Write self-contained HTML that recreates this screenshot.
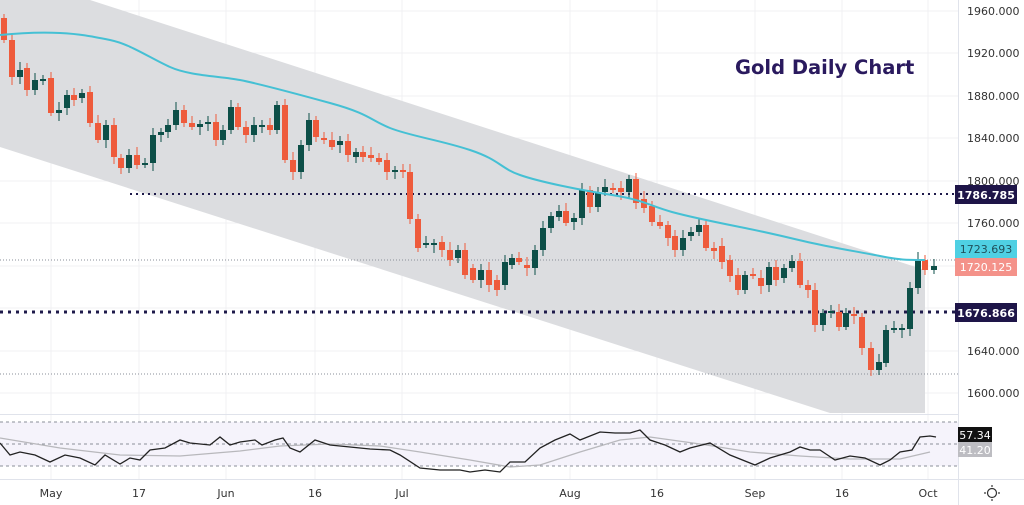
<!DOCTYPE html>
<html><head><meta charset="utf-8"><style>
html,body{margin:0;padding:0;background:#fff;}
svg{display:block;font-family:"DejaVu Sans","Liberation Sans",sans-serif;}
</style></head><body>
<svg id="s" width="1024" height="505" viewBox="0 0 1024 505" xmlns="http://www.w3.org/2000/svg">
<rect width="1024" height="505" fill="#fff"/>
<g id="grid" stroke="#f0f0f3" stroke-width="1"></g>
<polygon points="0,0 90,0 925,270 925,413 830,413 0,147" fill="#dcdde0"/>
<line x1="0" y1="260" x2="958" y2="260" stroke="#8a8f99" stroke-width="1" stroke-dasharray="1,2"/>
<line x1="0" y1="374" x2="958" y2="374" stroke="#8a8f99" stroke-width="1" stroke-dasharray="1,2"/>
<line x1="130" y1="194" x2="958" y2="194" stroke="#1e1a4a" stroke-width="2" stroke-dasharray="2,4"/>
<line x1="0" y1="312" x2="958" y2="312" stroke="#1e1a4a" stroke-width="3" stroke-dasharray="3,5"/>
<g id="candles"></g>
<path fill="none" stroke="#45c0d4" stroke-width="2" d="M0,35 C20,33 40,32 60,33 S90,36 110,40 S150,58 170,67 S220,76 240,80 S290,92 330,103 S370,120 390,128 S440,140 470,150 S500,168 520,175 S580,190 612,195 S650,206 672,212 S720,223 745,228 S790,238 812,243 S860,252 880,256 S905,260 925,260"/>
<text x="735" y="74" font-size="19.5" font-weight="bold" fill="#2a1a5e">Gold Daily Chart</text>
<line x1="0" y1="414.5" x2="958" y2="414.5" stroke="#e0e3eb"/>
<line x1="0" y1="479.5" x2="1024" y2="479.5" stroke="#e0e3eb"/>
<line x1="958.5" y1="0" x2="958.5" y2="505" stroke="#e0e3eb"/>
<rect x="0" y="422" width="958" height="44" fill="#f5f3fb"/>
<g stroke="#8a8f99" stroke-width="1" stroke-dasharray="3,3">
<line x1="0" y1="422" x2="958" y2="422"/><line x1="0" y1="444" x2="958" y2="444"/><line x1="0" y1="466" x2="958" y2="466"/></g>
<polyline fill="none" stroke="#b8b8bc" stroke-width="1.3" points="0,438 60,448 120,455 180,456 240,451 280,446 330,444 380,446 420,452 470,460 510,467 540,465 580,452 620,440 650,437 700,444 750,452 800,456 850,459 900,459 930,452"/>
<polyline fill="none" stroke="#222" stroke-width="1.3" points="0,443 10,455 20,452 35,455 50,462 65,455 80,458 95,465 105,455 120,464 130,458 140,460 150,450 165,448 180,440 190,443 210,445 220,437 230,445 240,442 255,440 262,445 275,440 283,438 290,448 300,452 315,440 330,445 350,447 370,449 390,450 400,455 420,468 440,470 460,470 470,472 485,470 500,472 510,462 525,462 540,448 555,440 570,434 580,440 600,432 615,433 630,433 640,430 650,440 665,445 680,452 690,448 710,443 730,455 755,465 770,458 790,452 800,447 810,450 820,450 835,460 850,456 865,458 880,465 890,460 900,452 912,450 920,437 930,436 936,437"/>
<g id="axis" font-size="11" fill="#333"></g>
<rect x="955" y="185" width="62" height="19" fill="#1e1548"/><text x="986" y="199" font-size="11" font-weight="bold" fill="#fff" text-anchor="middle">1786.785</text>
<rect x="955" y="240" width="62" height="18" fill="#4fd0e3"/><text x="986" y="253" font-size="11" fill="#20505a" text-anchor="middle">1723.693</text>
<rect x="955" y="258" width="62" height="18" fill="#f4928a"/><text x="986" y="271" font-size="11" fill="#fff" text-anchor="middle">1720.125</text>
<rect x="955" y="303" width="62" height="19" fill="#1e1548"/><text x="986" y="317" font-size="11" font-weight="bold" fill="#fff" text-anchor="middle">1676.866</text>
<rect x="958" y="427" width="34" height="15" fill="#111"/><text x="975" y="439" font-size="11" fill="#fff" text-anchor="middle">57.34</text>
<rect x="958" y="442" width="34" height="15" fill="#bdbdc2"/><text x="975" y="454" font-size="11" fill="#fff" text-anchor="middle">41.20</text>
<g font-size="11" fill="#333" text-anchor="middle">
<text x="51" y="497">May</text><text x="139" y="497">17</text><text x="226" y="497">Jun</text><text x="315" y="497">16</text><text x="402" y="497">Jul</text><text x="570" y="497">Aug</text><text x="657" y="497">16</text><text x="755" y="497">Sep</text><text x="842" y="497">16</text><text x="928" y="497">Oct</text></g>
<circle cx="992" cy="493" r="4.5" fill="none" stroke="#333" stroke-width="1.2"/>
<g stroke="#333" stroke-width="1.2"><line x1="992" y1="485" x2="992" y2="487"/><line x1="992" y1="499" x2="992" y2="501"/><line x1="984" y1="493" x2="986" y2="493"/><line x1="998" y1="493" x2="1000" y2="493"/></g>
</svg>
<script>
var NS="http://www.w3.org/2000/svg";
function el(p,t,a){var e=document.createElementNS(NS,t);for(var k in a)e.setAttribute(k,a[k]);p.appendChild(e);return e;}
var g=document.getElementById('grid');
[11,53,96,138,181,223,266,308,351,393].forEach(function(y){el(g,'line',{x1:0,x2:958,y1:y,y2:y});});
[51,139,226,315,402,570,657,755,842,928].forEach(function(x){el(g,'line',{x1:x,x2:x,y1:0,y2:479});});
var ax=document.getElementById('axis');
[[11,'1960.000'],[53,'1920.000'],[96,'1880.000'],[138,'1840.000'],[181,'1800.000'],[223,'1760.000'],[351,'1640.000'],[393,'1600.000']].forEach(function(a){var t=el(ax,'text',{x:967,y:a[0]+4});t.textContent=a[1];});
var R='#ee5b3c',G='#0d4f48';
var c=[[4,18,40,'r'],[12,40,77,'r'],[20,70,77,'g'],[27,68,90,'r'],[35,80,90,'g'],[43,79,81,'g'],[51,78,113,'r'],[59,110,113,'g'],[67,95,108,'g'],[74,95,100,'r'],[82,93,98,'g'],[90,92,123,'r'],[98,123,140,'r'],[106,125,140,'g'],[114,125,157,'r'],[121,158,168,'r'],[129,155,168,'g'],[137,155,165,'r'],[145,163,165,'g'],[153,135,163,'g'],[161,132,135,'g'],[168,125,132,'g'],[176,110,125,'g'],[184,110,123,'r'],[192,123,127,'r'],[200,124,127,'g'],[208,122,124,'g'],[216,122,140,'r'],[223,130,140,'g'],[231,107,130,'g'],[238,107,127,'r'],[246,127,135,'r'],[254,125,135,'g'],[262,125,127,'g'],[270,125,130,'r'],[277,105,130,'g'],[285,105,160,'r'],[293,160,172,'r'],[301,145,172,'g'],[309,120,145,'g'],[316,120,137,'r'],[324,138,140,'r'],[332,140,147,'r'],[340,141,145,'g'],[348,141,155,'r'],[356,152,157,'g'],[363,152,157,'r'],[371,155,158,'r'],[379,158,162,'r'],[387,160,172,'r'],[395,170,172,'g'],[403,170,172,'r'],[410,172,219,'r'],[418,219,248,'r'],[426,243,245,'g'],[434,243,245,'g'],[442,242,250,'r'],[450,250,260,'r'],[458,250,258,'g'],[465,250,275,'r'],[473,268,280,'r'],[481,270,280,'g'],[489,270,285,'r'],[497,280,290,'r'],[505,262,285,'g'],[512,258,265,'g'],[519,258,262,'r'],[527,265,268,'r'],[535,250,268,'g'],[543,228,250,'g'],[551,216,228,'g'],[559,211,217,'g'],[566,211,223,'r'],[574,218,222,'g'],[582,190,218,'g'],[590,190,207,'r'],[598,193,207,'g'],[605,187,192,'g'],[613,188,190,'r'],[621,188,192,'r'],[629,179,192,'g'],[636,179,203,'r'],[644,199,208,'r'],[652,206,222,'r'],[660,222,226,'r'],[668,225,238,'r'],[675,236,250,'r'],[683,238,250,'g'],[691,232,236,'g'],[699,225,232,'g'],[706,225,248,'r'],[714,248,251,'r'],[722,246,262,'r'],[730,260,276,'r'],[738,275,290,'r'],[745,275,290,'g'],[753,274,276,'r'],[761,278,286,'r'],[769,267,285,'g'],[776,267,280,'r'],[784,268,278,'g'],[792,261,268,'g'],[800,261,285,'r'],[808,285,290,'r'],[815,290,325,'r'],[823,313,325,'g'],[831,311,313,'g'],[839,312,327,'r'],[846,313,327,'g'],[854,314,316,'r'],[862,317,348,'r'],[871,348,370,'r'],[879,362,370,'g'],[886,330,363,'g'],[894,328,330,'g'],[902,328,330,'g'],[910,288,329,'g'],[918,260,288,'g'],[925,260,270,'r'],[934,266,270,'g']];
var cg=document.getElementById('candles');
c.forEach(function(d,i){var col=d[3]=='r'?R:G;var w1=4+((i*7)%5),w2=3+((i*11)%6);
el(cg,'line',{x1:d[0],x2:d[0],y1:d[1]-w1,y2:d[2]+w2,stroke:col,'stroke-width':1});
var h=Math.max(2,d[2]-d[1]);el(cg,'rect',{x:d[0]-3,y:d[1],width:6,height:h,fill:col});});
</script>
</body></html>
